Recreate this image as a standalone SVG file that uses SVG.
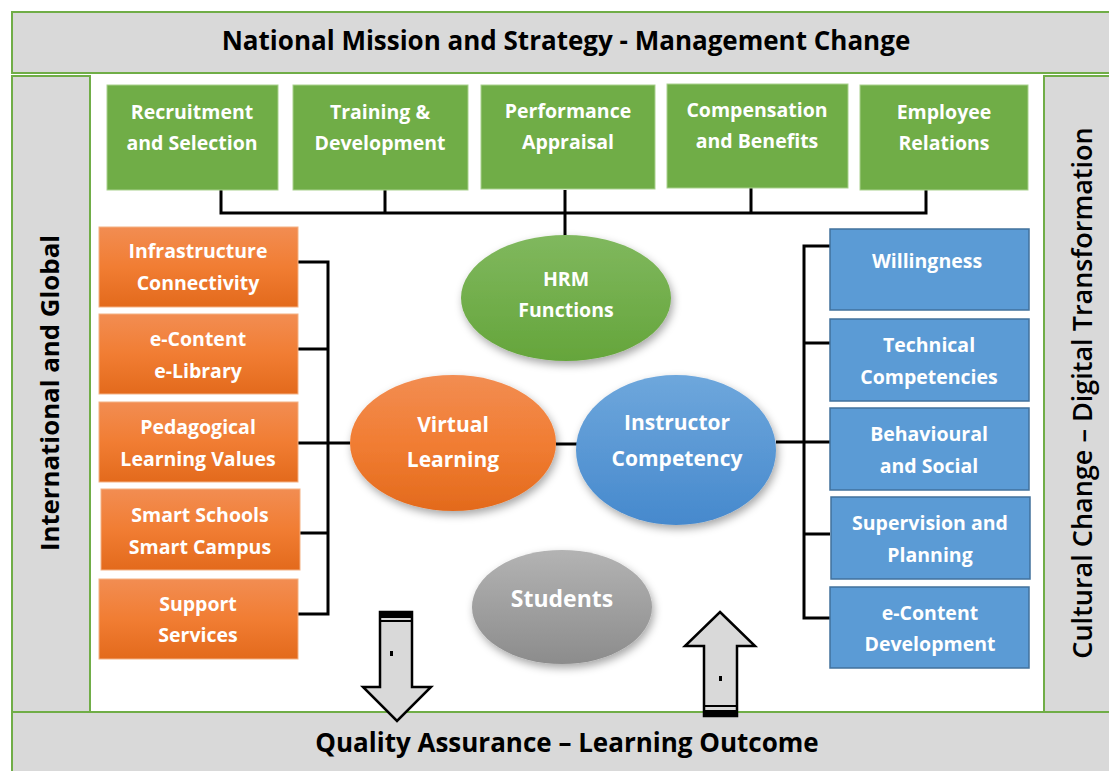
<svg xmlns="http://www.w3.org/2000/svg" width="1109" height="771" viewBox="0 0 1109 771">
<style>
.band{fill:#d9d9d9;stroke:#70ad47;stroke-width:2}
.gbox{fill:#70ad47;stroke:#a9d18e;stroke-width:1}
.obox{fill:url(#og);stroke:#f4b183;stroke-width:1}
.bbox{fill:#5b9bd5;stroke:#41719c;stroke-width:1.5}
.wt{font-family:"Open Sans",Lato,sans-serif;font-weight:bold;font-size:19.5px;fill:#fff;text-anchor:middle}
.et{font-family:"Open Sans",Lato,sans-serif;font-weight:bold;font-size:21px;fill:#fff;text-anchor:middle}
.bt{font-family:"Open Sans",Lato,sans-serif;font-weight:bold;font-size:26px;fill:#000;text-anchor:middle}
.st{font-family:"Open Sans",Lato,sans-serif;font-weight:bold;font-size:25.8px;fill:#000;text-anchor:middle}
.ln{fill:none;stroke:#000;stroke-width:3}
.arw{fill:#d9d9d9;stroke:#000;stroke-width:2.5}
</style>
<defs>
<linearGradient id="og" x1="0" y1="0" x2="0" y2="1"><stop offset="0" stop-color="#f28d52"/><stop offset="0.5" stop-color="#f17d33"/><stop offset="1" stop-color="#e36a1c"/></linearGradient>
<linearGradient id="gg" x1="0" y1="0" x2="0" y2="1"><stop offset="0" stop-color="#80b85e"/><stop offset="1" stop-color="#65a53b"/></linearGradient>
<linearGradient id="bg" x1="0" y1="0" x2="0" y2="1"><stop offset="0" stop-color="#6ea7dc"/><stop offset="1" stop-color="#4689cd"/></linearGradient>
<linearGradient id="sg" x1="0" y1="0" x2="0" y2="1"><stop offset="0" stop-color="#b3b3b3"/><stop offset="1" stop-color="#8c8c8c"/></linearGradient>
<filter id="sh" x="-20%" y="-20%" width="140%" height="150%"><feDropShadow dx="2" dy="4" stdDeviation="4" flood-color="#000" flood-opacity="0.35"/></filter>
</defs>
<rect width="1109" height="771" fill="#fff"/>

<g id="top-band"><rect class="band" x="12" y="12" width="1100" height="61"/><text class="bt" x="566" y="50">National Mission and Strategy - Management Change</text></g>
<g id="left-band"><rect class="band" x="12" y="76" width="78" height="636"/><text class="st" transform="translate(59,393) rotate(-90)">International and Global</text></g>
<g id="right-band"><rect class="band" x="1044" y="76" width="68" height="636"/><text class="st" style="font-weight:600;font-size:27px" transform="translate(1092,393) rotate(-90)">Cultural Change – Digital Transformation</text></g>
<g id="bottom-band"><rect class="band" x="12" y="712" width="1100" height="62"/><text class="bt" x="567" y="752">Quality Assurance – Learning Outcome</text></g>

<g id="connectors">
<path class="ln" d="M221,190 V213 H926 V190 M385,190 V213 M565,190 V236 M751,188 V213"/>
<path class="ln" d="M298,262 H328 V614 H298 M298,349 H328 M298,443 H350 M300,533 H328"/>
<path class="ln" d="M830,246 H804 V618 H830 M830,343 H804 M830,534 H804 M776,442 H830"/>
<path class="ln" d="M556,444 H578"/>
</g>

<g id="recruitment"><rect class="gbox" x="107" y="85" width="171" height="105"/><text class="wt" x="192" y="119">Recruitment</text><text class="wt" x="192" y="150">and Selection</text></g>
<g id="training"><rect class="gbox" x="293" y="85" width="175" height="105"/><text class="wt" x="380" y="119">Training &amp;</text><text class="wt" x="380" y="150">Development</text></g>
<g id="performance"><rect class="gbox" x="481" y="85" width="174" height="104"/><text class="wt" x="568" y="118">Performance</text><text class="wt" x="568" y="149">Appraisal</text></g>
<g id="compensation"><rect class="gbox" x="667" y="84" width="181" height="104"/><text class="wt" x="757" y="117">Compensation</text><text class="wt" x="757" y="148">and Benefits</text></g>
<g id="employee"><rect class="gbox" x="860" y="85" width="168" height="105"/><text class="wt" x="944" y="119">Employee</text><text class="wt" x="944" y="150">Relations</text></g>

<g id="infrastructure"><rect class="obox" x="99" y="227" width="199" height="80"/><text class="wt" x="198" y="258">Infrastructure</text><text class="wt" x="198" y="290">Connectivity</text></g>
<g id="econtent-library"><rect class="obox" x="99" y="314" width="199" height="80"/><text class="wt" x="198" y="346">e-Content</text><text class="wt" x="198" y="378">e-Library</text></g>
<g id="pedagogical"><rect class="obox" x="99" y="402" width="199" height="80"/><text class="wt" x="198" y="434">Pedagogical</text><text class="wt" x="198" y="466">Learning Values</text></g>
<g id="smart"><rect class="obox" x="101" y="489" width="199" height="81"/><text class="wt" x="200" y="522">Smart Schools</text><text class="wt" x="200" y="554">Smart Campus</text></g>
<g id="support"><rect class="obox" x="99" y="579" width="199" height="80"/><text class="wt" x="198" y="611">Support</text><text class="wt" x="198" y="642">Services</text></g>

<g id="willingness"><rect class="bbox" x="830" y="229" width="199" height="81"/><text class="wt" x="927" y="268">Willingness</text></g>
<g id="technical"><rect class="bbox" x="830" y="319" width="199" height="82"/><text class="wt" x="929" y="352">Technical</text><text class="wt" x="929" y="384">Competencies</text></g>
<g id="behavioural"><rect class="bbox" x="830" y="408" width="199" height="82"/><text class="wt" x="929" y="441">Behavioural</text><text class="wt" x="929" y="473">and Social</text></g>
<g id="supervision"><rect class="bbox" x="831" y="497" width="199" height="82"/><text class="wt" x="930" y="530">Supervision and</text><text class="wt" x="930" y="562">Planning</text></g>
<g id="econtent-dev"><rect class="bbox" x="830" y="587" width="199" height="81"/><text class="wt" x="930" y="620">e-Content</text><text class="wt" x="930" y="651">Development</text></g>

<g id="hrm"><ellipse cx="566" cy="298" rx="105" ry="63" fill="url(#gg)" filter="url(#sh)"/><text class="wt" x="566" y="286">HRM</text><text class="wt" x="566" y="317">Functions</text></g>
<g id="virtual"><ellipse cx="453" cy="443" rx="103" ry="68" fill="url(#og)" filter="url(#sh)"/><text class="et" x="453" y="432">Virtual</text><text class="et" x="453" y="467">Learning</text></g>
<g id="instructor"><ellipse cx="676" cy="450" rx="100" ry="75" fill="url(#bg)" filter="url(#sh)"/><text class="et" x="677" y="430">Instructor</text><text class="et" x="677" y="466">Competency</text></g>
<g id="students"><ellipse cx="562" cy="607" rx="90" ry="57" fill="url(#sg)" filter="url(#sh)"/><text class="et" style="font-size:23px" x="562" y="607">Students</text></g>

<g id="arrow-down"><path class="arw" d="M380,612 H412 V687 H431 L397,721 L363,687 H380 Z"/><rect x="380" y="612" width="32" height="6" fill="#000"/><rect x="380" y="620" width="32" height="2" fill="#000"/><rect x="390" y="651" width="3" height="5" fill="#000"/></g>
<g id="arrow-up"><path class="arw" d="M720,612 L755,646 H737 V716 H704 V646 H685 Z"/><rect x="704" y="710" width="33" height="6" fill="#000"/><rect x="704" y="705" width="33" height="2" fill="#000"/><rect x="719" y="676" width="3" height="5" fill="#000"/></g>
</svg>
